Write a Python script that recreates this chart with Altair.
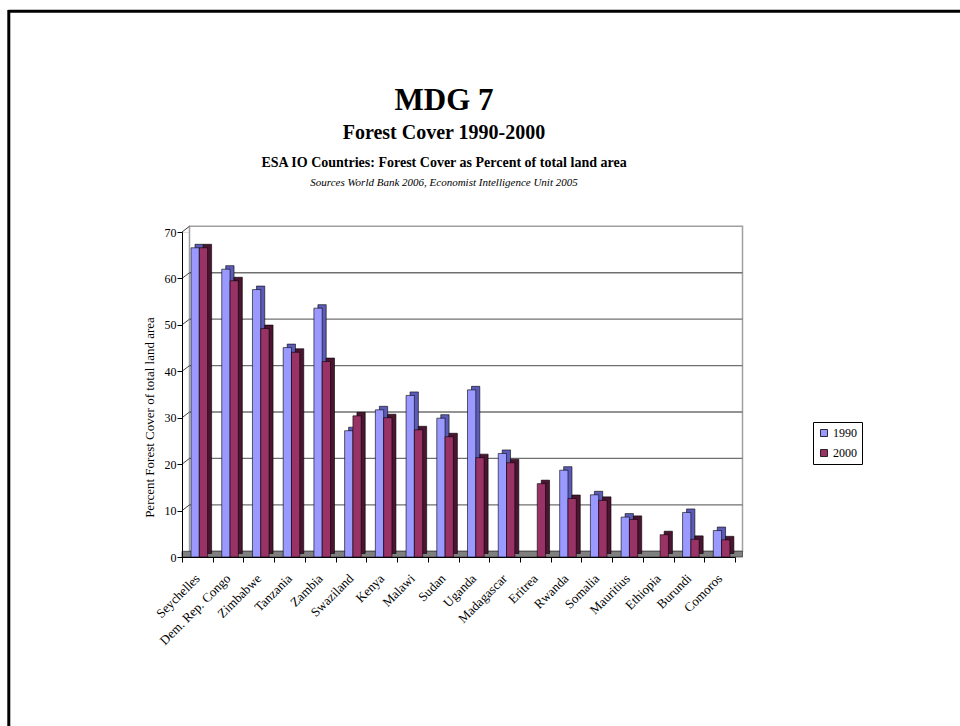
import altair as alt
import pandas as pd

# Forest cover, percent of total land area
countries = [
    "Seychelles", "Dem. Rep. Congo", "Zimbabwe", "Tanzania", "Zambia",
    "Swaziland", "Kenya", "Malawi", "Sudan", "Uganda", "Madagascar",
    "Eritrea", "Rwanda", "Somalia", "Mauritius", "Ethiopia", "Burundi", "Comoros",
]
cover_1990 = [66.6, 62.0, 57.6, 45.1, 53.6, 27.2, 31.7, 34.8, 29.9, 36.0, 22.3,
              None, 18.7, 13.4, 8.6, None, 9.6, 5.7]
cover_2000 = [66.6, 59.5, 49.2, 44.1, 42.1, 30.4, 30.0, 27.4, 25.9, 21.4, 20.3,
              15.8, 12.6, 12.2, 8.1, 4.8, 3.8, 3.7]
years = ["1990", "2000"]
y_ticks = [0, 10, 20, 30, 40, 50, 60, 70]

title_main = "MDG 7"
title_sub = "Forest Cover 1990-2000"
title_desc = "ESA IO Countries:  Forest Cover as Percent of total land area"
title_src = "Sources World Bank 2006, Economist Intelligence Unit 2005"
y_title = "Percent Forest Cover of total land area"

front_colors = ["#9999FF", "#993366"]
side_colors = ["#5c5cb8", "#4a1530"]

FONT = "Liberation Serif"
W, H = 553, 325          # plot area
LEFT, TOP = 182, 232     # plot origin on the page
DX, DY = 7.5, -5.7       # depth of back wall
BX, BY = 4, -3.5         # depth of each bar
BAR_W = 8.3

rows = []
for c, a, b in zip(countries, cover_1990, cover_2000):
    if a is not None:
        rows.append({"country": c, "year": "1990", "cover": a})
    if b is not None:
        rows.append({"country": c, "year": "2000", "cover": b})
df = pd.DataFrame(rows)
ticks_df = pd.DataFrame({"v": y_ticks})

x_scale = alt.Scale(domain=countries, paddingInner=0, paddingOuter=0)
y_scale = alt.Scale(domain=[0, 70], nice=False, zero=True)

x_axis = alt.Axis(
    title=None, tickBand="extent", labelAngle=-45, labelAlign="right",
    labelBaseline="middle", labelPadding=14, labelFont=FONT, labelFontSize=13,
    labelColor="black", labelOverlap=False, labelLimit=300, tickSize=5,
    tickColor="black", domainColor="black", grid=False, zindex=1,
)
y_axis = alt.Axis(
    values=y_ticks, title=y_title, titleFont=FONT, titleFontSize=13,
    titleFontWeight="normal", titleColor="black", titleAngle=270,
    titleX=-33, titleY=185, titleAlign="center", titleBaseline="middle",
    labelFont=FONT, labelFontSize=12, labelColor="black", labelPadding=1,
    tickSize=5, tickColor="black", domainColor="black", grid=False, zindex=1,
)

X = alt.X("country:N", sort=countries, scale=x_scale, axis=x_axis)
Y = alt.Y("cover:Q", scale=y_scale, axis=y_axis)
YV = alt.Y("v:Q", scale=y_scale, axis=y_axis)

base = alt.Chart(df)

# back wall and floor
back_wall = alt.Chart(alt.Data(values=[{}])).mark_rect(
    fill="white", stroke="#a0a0a0", strokeWidth=1.5
).encode(x=alt.value(DX), x2=alt.value(W + DX), y=alt.value(DY), y2=alt.value(H + DY))

grid = alt.Chart(ticks_df).transform_filter("datum.v > 0 && datum.v < 70").mark_rule(
    color="#707070", strokeWidth=1.3, yOffset=DY
).encode(x=alt.value(DX), x2=alt.value(W + DX), y=YV)

side_ticks = alt.Chart(ticks_df).mark_rule(
    color="#404040", strokeWidth=1, y2Offset=DY
).encode(x=alt.value(0), x2=alt.value(DX), y=YV, y2="v:Q")

floor = alt.Chart(alt.Data(values=[{}])).mark_rect(
    fill="#808080", stroke="#404040", strokeWidth=0.8
).encode(x=alt.value(0), x2=alt.value(W + DX), y=alt.value(H + DY), y2=alt.value(H))

legend = alt.Legend(
    title=None, orient="none", legendX=631, legendY=190,
    direction="vertical", strokeColor="black", fillColor="white",
    padding=5, symbolType="square", symbolSize=49,
    symbolStrokeColor="black", symbolStrokeWidth=0.8,
    labelFont=FONT, labelFontSize=12, labelColor="black",
    rowPadding=8, labelOffset=3, cornerRadius=0,
)
color = alt.Color("year:N", scale=alt.Scale(domain=years, range=front_colors), legend=legend)


def bars(year, offset, side):
    sub = base.transform_filter(alt.datum.year == year)
    depth = sub.mark_bar(
        width=BAR_W, xOffset=offset + BX, yOffset=BY, y2Offset=BY,
        fill=side, stroke="black", strokeWidth=0.6,
    ).encode(x=X, y=Y)
    face = sub.mark_bar(
        width=BAR_W, xOffset=offset, stroke="black", strokeWidth=0.6,
    ).encode(x=X, y=Y, color=color)
    return depth, face


d1, f1 = bars("1990", -2.2, side_colors[0])
d2, f2 = bars("2000", 6.1, side_colors[1])


def label(text, size, weight, style, base_y):
    return alt.Chart(alt.Data(values=[{}])).mark_text(
        text=text, font=FONT, fontSize=size, fontWeight=weight, fontStyle=style,
        align="center", baseline="alphabetic", color="black",
    ).encode(x=alt.value(444 - LEFT), y=alt.value(base_y - TOP))


titles = [
    label(title_main, 31, "bold", "normal", 110),
    label(title_sub, 20, "bold", "normal", 139),
    label(title_desc, 14, "bold", "normal", 166.5),
    label(title_src, 11, "normal", "italic", 186),
]

# page frame (top and left edges)
frame_top = alt.Chart(alt.Data(values=[{}])).mark_rule(color="black", strokeWidth=3).encode(
    x=alt.value(8.5 - LEFT), x2=alt.value(960 - LEFT), y=alt.value(11.3 - TOP))
frame_left = alt.Chart(alt.Data(values=[{}])).mark_rule(color="black", strokeWidth=3).encode(
    x=alt.value(8.8 - LEFT), y=alt.value(10 - TOP), y2=alt.value(726 - TOP))

chart = alt.layer(
    back_wall, grid, side_ticks, floor, d1, f1, d2, f2,
    *titles, frame_top, frame_left,
).properties(
    width=W, height=H,
    autosize=alt.AutoSizeParams(type="none"),
    padding={"left": LEFT, "top": TOP, "right": 960 - LEFT - W, "bottom": 726 - TOP - H},
    background="white",
).configure_view(strokeWidth=0).configure(font=FONT)

chart.save("out.html", embed_options={"renderer": "svg", "actions": False})
